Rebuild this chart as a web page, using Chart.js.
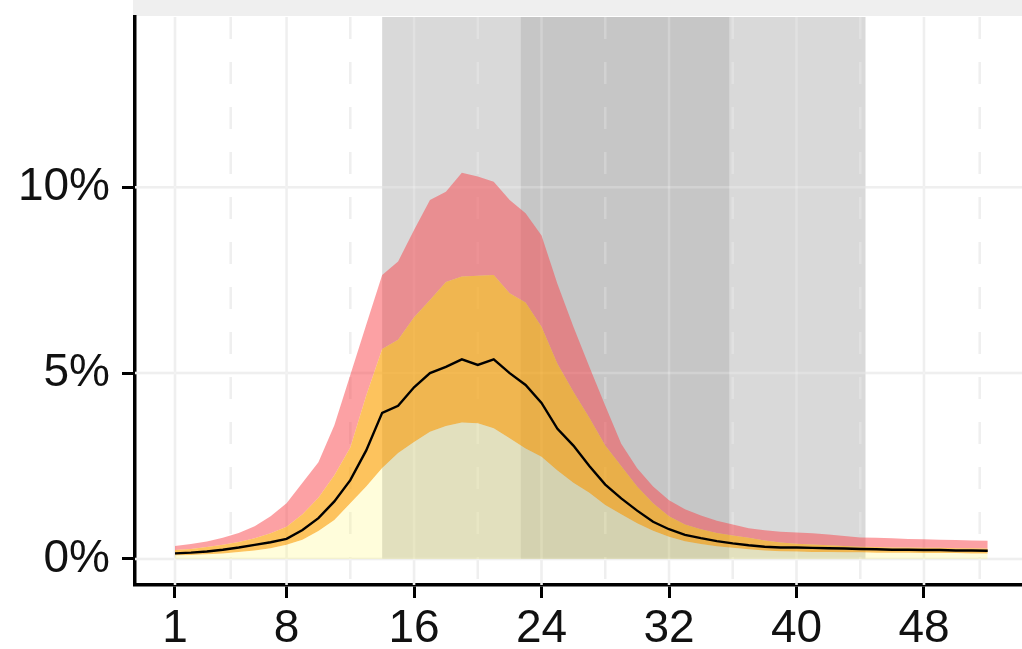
<!DOCTYPE html>
<html>
<head>
<meta charset="utf-8">
<style>
  html, body { margin: 0; padding: 0; background: #fff; }
  #chart { display: block; }
</style>
</head>
<body>
<canvas id="chart" width="1022" height="649"></canvas>
<script src="https://cdn.jsdelivr.net/npm/chart.js@4.4.1/dist/chart.umd.min.js"></script>
<script>
  // week of the season
  const weeks = [1, 2, 3, 4, 5, 6, 7, 8, 9, 10, 11, 12, 13, 14, 15, 16, 17, 18, 19, 20, 21, 22, 23, 24, 25, 26,
    27, 28, 29, 30, 31, 32, 33, 34, 35, 36, 37, 38, 39, 40, 41, 42, 43, 44, 45, 46, 47, 48, 49, 50, 51, 52];

  // percent values
  const median = [0.15, 0.17, 0.20, 0.25, 0.31, 0.38, 0.45, 0.54, 0.78, 1.1, 1.55, 2.12, 2.92, 3.93, 4.12, 4.62, 5.0,
    5.17, 5.37, 5.22, 5.37, 5.0, 4.68, 4.2, 3.5, 3.05, 2.5, 2.0, 1.63, 1.3, 1.0, 0.8, 0.65, 0.56, 0.48, 0.42, 0.37,
    0.33, 0.31, 0.31, 0.30, 0.29, 0.28, 0.27, 0.26, 0.25, 0.25, 0.24, 0.24, 0.23, 0.23, 0.22];
  const lower50 = [0.10, 0.11, 0.13, 0.15, 0.19, 0.23, 0.29, 0.38, 0.52, 0.75, 1.05, 1.5, 1.95, 2.45, 2.85, 3.15, 3.42,
    3.58, 3.67, 3.65, 3.52, 3.25, 2.97, 2.75, 2.38, 2.05, 1.78, 1.45, 1.2, 0.96, 0.76, 0.6, 0.48, 0.40, 0.34, 0.30,
    0.26, 0.23, 0.21, 0.20, 0.19, 0.19, 0.18, 0.18, 0.17, 0.17, 0.17, 0.16, 0.16, 0.16, 0.15, 0.15];
  const upper50 = [0.24, 0.27, 0.32, 0.38, 0.46, 0.56, 0.69, 0.87, 1.2, 1.65, 2.25, 3.0, 4.4, 5.65, 5.9, 6.5, 6.97,
    7.45, 7.6, 7.62, 7.64, 7.15, 6.9, 6.25, 5.25, 4.5, 3.8, 3.05, 2.5, 1.95, 1.5, 1.15, 0.93, 0.8, 0.7, 0.63, 0.57,
    0.5, 0.44, 0.41, 0.39, 0.37, 0.35, 0.33, 0.32, 0.31, 0.31, 0.30, 0.30, 0.29, 0.29, 0.28];
  const upper95 = [0.35, 0.40, 0.47, 0.57, 0.70, 0.88, 1.15, 1.5, 2.05, 2.6, 3.6, 4.95, 6.3, 7.64, 8.0, 8.85, 9.66,
    9.88, 10.39, 10.29, 10.15, 9.66, 9.3, 8.7, 7.4, 6.25, 5.17, 4.12, 3.1, 2.44, 1.95, 1.58, 1.34, 1.17, 1.03, 0.93,
    0.83, 0.77, 0.73, 0.71, 0.69, 0.66, 0.62, 0.58, 0.57, 0.56, 0.54, 0.53, 0.52, 0.51, 0.50, 0.49];

  const xTicks = [1, 8, 16, 24, 32, 40, 48];
  const xMinor = [4.5, 12, 20, 28, 36, 44, 51.5];
  const yTicks = [0, 5, 10];

  // shaded periods (weeks)
  const shadeFrom = [14, 22.7];
  const shadeTo = [44.33, 35.78];
  const shadeColor = ['#d9d9d9', '#c6c6c6'];

  const pts = (arr) => weeks.map((w, i) => ({ x: w, y: arr[i] }));

  const backdrop = {
    id: 'backdrop',
    beforeDraw(chart) {
      const { ctx, chartArea } = chart;
      ctx.save();
      ctx.fillStyle = '#efefef';
      ctx.fillRect(chartArea.left - 2, 0, chart.width - chartArea.left + 2, 16);
      ctx.restore();
    },
    beforeDatasetsDraw(chart) {
      const { ctx, chartArea: a, scales: { x, y } } = chart;
      const grid = (color) => {
        ctx.strokeStyle = color;
        ctx.lineWidth = 2.5;
        yTicks.forEach(v => {
          const py = y.getPixelForValue(v);
          ctx.beginPath(); ctx.moveTo(a.left, py); ctx.lineTo(a.right, py); ctx.stroke();
        });
        xTicks.forEach(v => {
          const px = x.getPixelForValue(v);
          ctx.beginPath(); ctx.moveTo(px, a.top); ctx.lineTo(px, a.bottom); ctx.stroke();
        });
        ctx.setLineDash([22, 23]);
        xMinor.forEach(v => {
          const px = x.getPixelForValue(v);
          ctx.beginPath(); ctx.moveTo(px, a.top); ctx.lineTo(px, a.bottom); ctx.stroke();
        });
        ctx.setLineDash([]);
      };
      ctx.save();
      ctx.beginPath();
      ctx.rect(a.left, a.top, a.right - a.left, a.bottom - a.top);
      ctx.clip();
      grid('#ebebeb');
      const y0 = y.getPixelForValue(0);
      shadeFrom.forEach((s, i) => {
        const x1 = x.getPixelForValue(s), x2 = x.getPixelForValue(shadeTo[i]);
        ctx.fillStyle = shadeColor[i];
        ctx.fillRect(x1, a.top, x2 - x1, y0 - a.top);
      });
      grid('rgba(255,255,255,0.22)');
      ctx.restore();
    }
  };

  const ribbon = (arr, color, fill) => ({
    data: pts(arr), borderWidth: 0, pointRadius: 0, backgroundColor: color, fill: fill, tension: 0, order: 2
  });

  new Chart(document.getElementById('chart'), {
    type: 'line',
    data: {
      datasets: [
        ribbon(lower50, 'rgba(255,247,111,0.25)', 'origin'),
        ribbon(upper50, 'rgba(252,163,6,0.65)', '-1'),
        ribbon(upper95, 'rgba(249,67,73,0.5)', '-1'),
        { data: pts(median), borderColor: '#000', borderWidth: 2.4, pointRadius: 0, fill: false, tension: 0, order: 0 }
      ]
    },
    options: {
      responsive: false,
      animation: false,
      layout: { padding: { top: 17, right: 0, left: 0, bottom: 0 } },
      plugins: { legend: { display: false }, tooltip: { enabled: false } },
      scales: {
        x: {
          type: 'linear', min: -1.51, max: 54.15,
          afterBuildTicks: s => { s.ticks = xTicks.map(v => ({ value: v })); },
          afterFit: s => { s.height = 64; s.paddingLeft = 0; s.paddingRight = 0; },
          grid: { drawOnChartArea: false, drawTicks: true, tickLength: 13, tickColor: '#000', tickWidth: 3 },
          border: { display: true, color: '#000', width: 3.5 },
          ticks: { autoSkip: false, maxRotation: 0, padding: 4, color: '#111',
            font: { family: '"Liberation Sans", Arial, sans-serif', size: 46 } }
        },
        y: {
          min: -0.70, max: 14.58,
          afterBuildTicks: s => { s.ticks = yTicks.map(v => ({ value: v })); },
          afterFit: s => { s.width = 135; s.paddingTop = 0; s.paddingBottom = 0; },
          grid: { drawOnChartArea: false, drawTicks: true, tickLength: 13, tickColor: '#000', tickWidth: 3 },
          border: { display: true, color: '#000', width: 3.5 },
          ticks: { padding: 12, color: '#111', callback: v => v + '%',
            font: { family: '"Liberation Sans", Arial, sans-serif', size: 46 } }
        }
      }
    },
    plugins: [backdrop]
  });
</script>
</body>
</html>
